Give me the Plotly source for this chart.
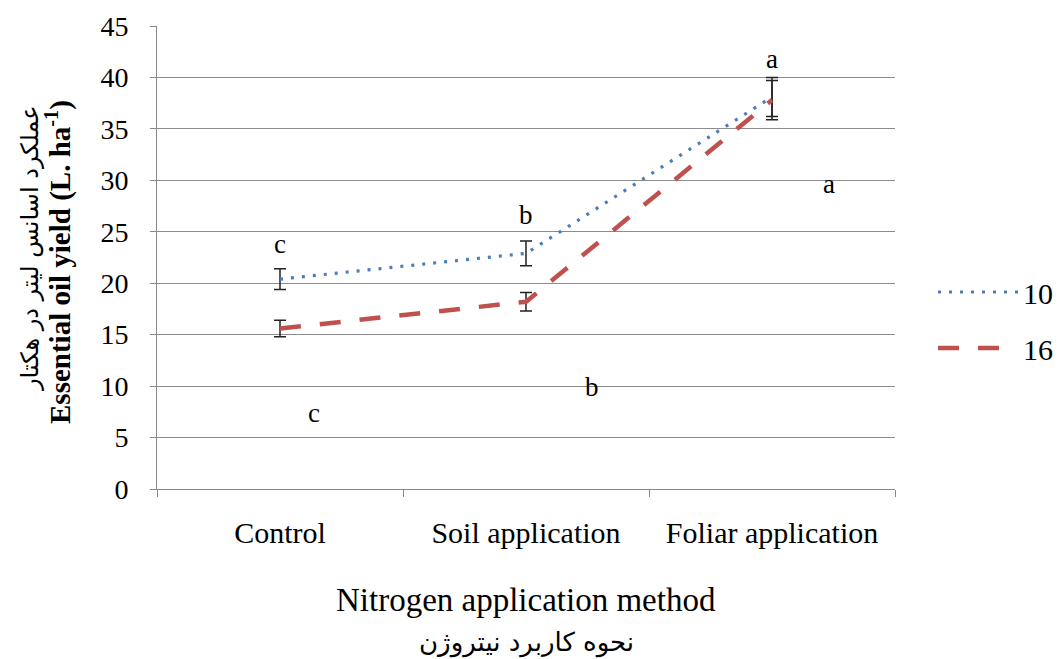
import plotly.graph_objects as go

categories = ["Control", "Soil application", "Foliar application"]
series_names = ["10", "16"]
yield_10 = [20.4, 22.9, 38.1]
yield_16 = [15.6, 18.2, 37.8]
err_10 = [1.0, 1.2, 1.9]
err_16 = [0.8, 0.9, 1.9]

letters_upper = ["c", "b", "a"]
letters_upper_y = [23.8, 26.6, 41.8]
letters_lower = ["c", "b", "a"]
letters_lower_x = [0.14, 1.27, 2.23]
letters_lower_y = [7.4, 9.9, 29.6]

y_ticks = [0, 5, 10, 15, 20, 25, 30, 35, 40, 45]

SERIF = "Liberation Serif, Times New Roman, serif"
FA = "DejaVu Sans, Noto Sans, sans-serif"

W, H = 1060, 659
L, R, T, B = 157, 165, 26, 170
pw = W - L - R
ph = H - T - B

def px_to_paper_x(px):
    return (px - L) / pw

def px_to_paper_y(py):
    return (T + ph - py) / ph

fig = go.Figure()
fig.add_trace(go.Scatter(
    x=categories, y=yield_10, name=series_names[0], mode="lines",
    line=dict(color="#4A7EBB", width=3.2, dash="3px,8px"),
    error_y=dict(type="data", array=err_10, color="#222222", thickness=1.5, width=6),
    legendgroup="a",
))
fig.add_trace(go.Scatter(
    x=categories, y=yield_16, name=series_names[1], mode="lines",
    line=dict(color="#C0504D", width=4.5, dash="21px,19px"),
    error_y=dict(type="data", array=err_16, color="#222222", thickness=1.5, width=6),
    legendgroup="b",
))

annotations = []
for i, (t, yv) in enumerate(zip(letters_upper, letters_upper_y)):
    annotations.append(dict(x=i, y=yv, xref="x", yref="y", text=t, showarrow=False,
                            font=dict(family=SERIF, size=27, color="black")))
for t, xv, yv in zip(letters_lower, letters_lower_x, letters_lower_y):
    annotations.append(dict(x=xv, y=yv, xref="x", yref="y", text=t, showarrow=False,
                            font=dict(family=SERIF, size=27, color="black")))

annotations.append(dict(x=0.5, y=px_to_paper_y(600), xref="paper", yref="paper",
                        xanchor="center", yanchor="middle",
                        text="Nitrogen application method", showarrow=False,
                        font=dict(family=SERIF, size=33, color="black")))
annotations.append(dict(x=0.5, y=px_to_paper_y(642), xref="paper", yref="paper",
                        xanchor="center", yanchor="middle",
                        text="نحوه کاربرد نیتروژن", showarrow=False,
                        font=dict(family=FA, size=26, color="black")))
annotations.append(dict(x=px_to_paper_x(30), y=px_to_paper_y(248), xref="paper", yref="paper",
                        xanchor="center", yanchor="middle", textangle=-90,
                        text="عملکرد اسانس لیتر در هکتار", showarrow=False,
                        font=dict(family=FA, size=24, color="black")))
annotations.append(dict(x=px_to_paper_x(58), y=px_to_paper_y(262), xref="paper", yref="paper",
                        xanchor="center", yanchor="middle", textangle=-90,
                        text="<b>Essential oil yield (L. ha<sup>-1</sup>)</b>", showarrow=False,
                        font=dict(family=SERIF, size=29, color="black")))

fig.update_layout(
    width=W, height=H,
    margin=dict(l=L, r=R, t=T, b=B, autoexpand=False),
    paper_bgcolor="white", plot_bgcolor="white",
    showlegend=True,
    legend=dict(x=px_to_paper_x(933), y=px_to_paper_y(320), xanchor="left", yanchor="middle",
                font=dict(family=SERIF, size=30, color="black"),
                itemwidth=80, tracegroupgap=14, bgcolor="rgba(0,0,0,0)"),
    annotations=annotations,
    xaxis=dict(
        type="category", range=[-0.5, 2.5],
        showgrid=False, showline=True, linecolor="#888888", linewidth=1,
        ticks="outside", tickson="boundaries", ticklen=7, tickcolor="#888888",
        tickfont=dict(family=SERIF, size=30, color="black"),
        ticklabelstandoff=17,
    ),
    yaxis=dict(
        range=[0, 45], tickvals=y_ticks,
        showgrid=True, gridcolor="#8C8C8C", gridwidth=1,
        showline=True, linecolor="#888888", linewidth=1,
        zeroline=False,
        ticks="outside", ticklen=6, tickcolor="#888888",
        tickfont=dict(family=SERIF, size=28, color="black"),
        ticklabelstandoff=16,
    ),
)

fig.write_html("out.html", config={"displayModeBar": False},
               post_script="document.body.style.margin='0';")
